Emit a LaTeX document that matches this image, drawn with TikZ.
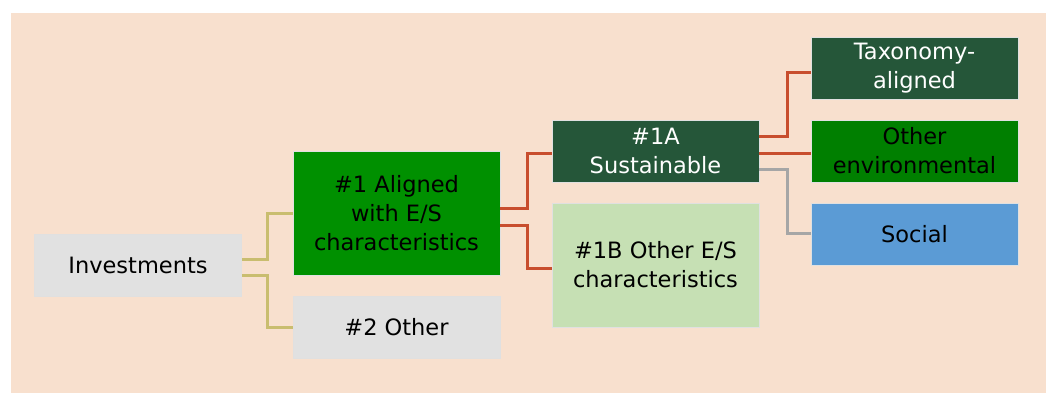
\documentclass[tikz,border=0pt]{standalone}
\usepackage{fontspec}
\setmainfont{DejaVu Sans}
\usepackage{tikz}
\tikzset{>=latex}
\definecolor{peach}{HTML}{F8E0CE}
\definecolor{boxgray}{HTML}{E1E1E1}
\definecolor{brightgreen}{HTML}{009000}
\definecolor{darkgreen}{HTML}{255639}
\definecolor{lightgreen}{HTML}{C6E0B4}
\definecolor{midgreen}{HTML}{007F00}
\definecolor{skyblue}{HTML}{5B9BD5}
\definecolor{khaki}{HTML}{C9BD6F}
\definecolor{rust}{HTML}{C84E2E}
\definecolor{linegray}{HTML}{A6A6A6}
\tikzset{
  box/.style={rectangle, minimum width=207pt, minimum height=62pt, inner sep=0pt,
    align=center, draw=black!12, line width=0.6pt,
    font=\fontsize{22.5}{29}\selectfont},
  tallbox/.style={box, minimum height=124pt},
  conn/.style={line width=3pt, line join=miter},
}
\begin{document}
\begin{tikzpicture}[x=1pt, y=-1pt]
   \useasboundingbox (0,0) rectangle (1046,392);
   \fill[peach] (11,13) rectangle (1060,400);

   % level 0 and 1
   \node[box, fill=boxgray] (inv) at (138,265.5) {Investments};
   \node[tallbox, fill=brightgreen] (aligned) at (396.5,213) {\#1 Aligned\\with E/S\\characteristics};
   \node[box, fill=boxgray] (other) at (396.5,327) {\#2 Other};

   % level 2
   \node[box, fill=darkgreen, text=white] (sust) at (655.5,151) {\#1A\\Sustainable};
   \node[tallbox, fill=lightgreen] (otheres) at (655.5,265) {\#1B Other E/S\\characteristics};

   % level 3
   \node[box, fill=darkgreen, text=white] (tax) at (914.5,68) {Taxonomy-\\aligned};
   \node[box, fill=midgreen] (env) at (914.5,151) {Other\\environmental};
   \node[box, fill=skyblue] (soc) at (914.5,234) {Social};

   % connectors
   \draw[conn, khaki] ([yshift=6.5pt]inv.east) -- ++(26,0) |- (aligned.west);
   \draw[conn, khaki] ([yshift=-9.5pt]inv.east) -- ++(26,0) |- (other.west);
   \draw[conn, rust] ([yshift=5pt]aligned.east) -- ++(27,0) |- ([yshift=-2pt]sust.west);
   \draw[conn, rust] ([yshift=-12pt]aligned.east) -- ++(27,0) |- ([yshift=-3pt]otheres.west);
   \draw[conn, rust] ([yshift=15pt]sust.east) -- ++(28,0) |- ([yshift=-4pt]tax.west);
   \draw[conn, rust] ([yshift=-2pt]sust.east) -- ([yshift=-2pt]env.west);
   \draw[conn, linegray] ([yshift=-18pt]sust.east) -- ++(28,0) |- ([yshift=1pt]soc.west);
\end{tikzpicture}
\end{document}
